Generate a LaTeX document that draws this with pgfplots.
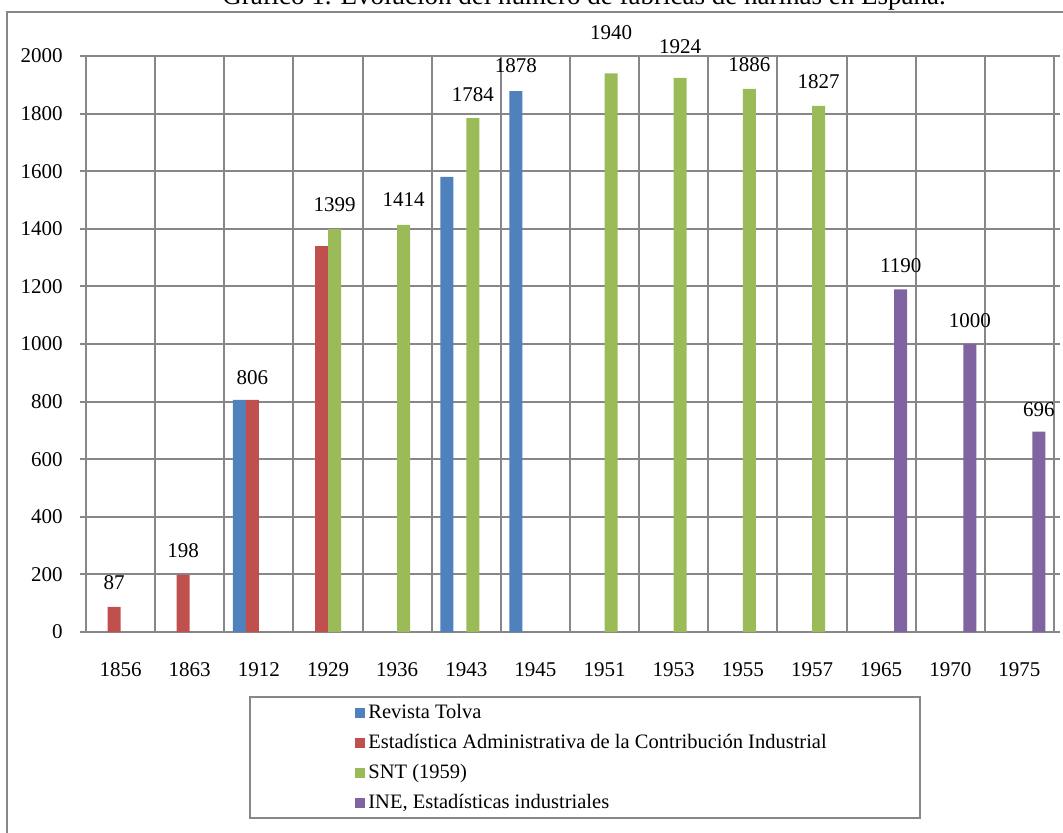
\documentclass[border=0pt]{standalone}
\usepackage{fontspec}
\setmainfont{Liberation Serif}
\usepackage{pgfplots}
\pgfplotsset{compat=1.18}
\definecolor{cblue}{HTML}{4F81BD}
\definecolor{cred}{HTML}{C0504D}
\definecolor{cgreen}{HTML}{9BBB59}
\definecolor{cpurple}{HTML}{8064A2}
\definecolor{gridgray}{HTML}{878787}
\pgfplotsset{sqleg/.style={legend image code/.code={\fill[##1] (0pt,-2.5pt) rectangle (5pt,2.5pt);}}}
\begin{document}
\fontsize{10.5}{12}\selectfont
\begin{tikzpicture}
\draw[gridgray, line width=1pt] (-39.25pt,-120pt) -- (-39.25pt,310.15pt) -- (520pt,310.15pt);
\node[anchor=base, inner sep=0pt, font=\fontsize{13.5}{15}\selectfont] at (249pt,313.5pt) {Gráfico 1. Evolución del número de fábricas de harinas en España.};
\draw[gridgray, line width=1pt, fill=white] (82pt,-32.5pt) rectangle (417pt,-93pt);
\begin{axis}[
  at={(0pt,0pt)}, anchor=south west,
  width=484pt, height=288pt, scale only axis,
  xmin=-0.5, xmax=13.5, ymin=0, ymax=2000,
  ybar=0pt, bar width=6.5pt,
  xtick={0,...,13},
  xticklabels={1856,1863,1912,1929,1936,1943,1945,1951,1953,1955,1957,1965,1970,1975},
  minor xtick={-0.5,0.5,...,13.5},
  ytick={0,200,...,2000},
  xminorgrids, ymajorgrids,
  tick align=outside,
  xtick style={draw=none},
  major tick length=3pt, minor tick length=3pt,
  axis line style={gridgray, line width=1pt},
  grid style={gridgray, line width=1pt},
  minor grid style={gridgray, line width=1pt},
  ytick style={gridgray, line width=1pt},
  minor tick style={gridgray, line width=1pt},
  tick label style={font=\fontsize{10.5}{12}\selectfont},
  /pgf/number format/assume math mode=true,
  /pgf/number format/1000 sep={},
  xticklabel style={yshift=-8.5pt},
  yticklabel style={xshift=-5pt},
  clip=false,
  legend style={draw=none, fill=none, at={(0.2779,-0.1233)}, anchor=north west,
    font=\fontsize{10.25}{12}\selectfont, inner sep=0pt, row sep=5pt,
    nodes={inner xsep=1.5pt, inner ysep=0.5pt, text height=7pt, text depth=2pt}},
  legend cell align=left,
]
\addplot[fill=cblue, draw=none, sqleg] coordinates {(2,806) (5,1580) (6,1878)};
\addplot[fill=cred, draw=none, sqleg] coordinates {(0,87) (1,198) (2,806) (3,1340)};
\addplot[fill=cgreen, draw=none, sqleg] coordinates {(3,1399) (4,1414) (5,1784) (7,1940) (8,1924) (9,1886) (10,1827)};
\addplot[fill=cpurple, draw=none, sqleg] coordinates {(11,1190) (12,1000) (13,696)};
\legend{Revista Tolva, Estadística Administrativa de la Contribución Industrial, SNT (1959), {INE, Estadísticas industriales}}
\node[xshift=-3.25pt] at (axis cs:0,170) {87};
\node[xshift=-3.25pt] at (axis cs:1,281) {198};
\node[xshift=-3.25pt] at (axis cs:2,882) {806};
\node[xshift=3.25pt] at (axis cs:3,1483) {1399};
\node[xshift=3.25pt] at (axis cs:4,1500) {1414};
\node[xshift=3.25pt] at (axis cs:5,1865) {1784};
\node[xshift=-9.75pt] at (axis cs:6,1965) {1878};
\node[xshift=3.25pt] at (axis cs:7,2080) {1940};
\node[xshift=3.25pt] at (axis cs:8,2031) {1924};
\node[xshift=3.25pt] at (axis cs:9,1969) {1886};
\node[xshift=3.25pt] at (axis cs:10,1910) {1827};
\node[xshift=9.75pt] at (axis cs:11,1271) {1190};
\node[xshift=9.75pt] at (axis cs:12,1080) {1000};
\node[xshift=9.75pt] at (axis cs:13,771) {696};
\end{axis}
\pgfresetboundingbox
\useasboundingbox (-43pt,-100pt) rectangle (488.5pt,316pt);
\end{tikzpicture}
\end{document}
